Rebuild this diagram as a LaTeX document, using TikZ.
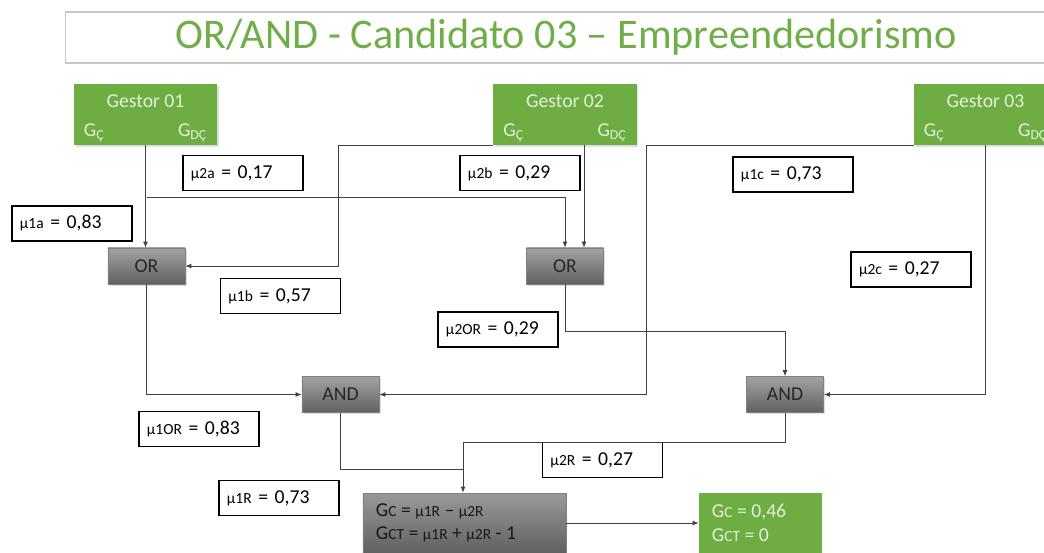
\documentclass[tikz,border=0pt]{standalone}
\usepackage{fontspec}
\setmainfont{Carlito}
\usetikzlibrary{arrows.meta,positioning,shadows}
\definecolor{gestorgreen}{HTML}{6DAD42}
\definecolor{titlegreen}{HTML}{6FAE48}
\definecolor{lighttext}{HTML}{E4F1DC}
\definecolor{linegray}{HTML}{404040}
\newcommand{\sm}[1]{{\fontsize{11}{12}\selectfont #1}}
\newcommand{\mi}[1]{\sm{μ#1}}
\newcommand{\gi}[1]{G\sm{#1}}
\begin{document}
\begin{tikzpicture}[x=0.025cm, y=-0.025cm, font=\fontsize{14}{16.5}\selectfont,
          >={Latex[length=1.5mm,width=1.2mm]},
          conn/.style={draw=linegray, line width=0.6pt},
          lbl/.style={draw=black, line width=0.8pt, fill=white, text width=2.6cm, align=left, inner xsep=0.2cm, minimum height=0.875cm, inner ysep=0pt},
          gate/.style={draw=black!50, top color=black!36, bottom color=black!62, text=black!85, minimum width=1.925cm, minimum height=0.9cm, inner sep=0pt,
            drop shadow={shadow xshift=0.4mm, shadow yshift=-0.4mm, opacity=0.25}},
          gbox/.style={fill=gestorgreen, minimum width=3.575cm, minimum height=1.525cm, inner sep=0pt,
            drop shadow={shadow xshift=0.4mm, shadow yshift=-0.4mm, opacity=0.25}},
          gtxt/.style={text=lighttext, inner sep=0pt}]
        \useasboundingbox (0,0) rectangle (1044,552);
        \clip (0,0) rectangle (1044,552);
        \node[draw=black!22, line width=0.8pt, minimum width=25cm, minimum height=1.275cm, text=titlegreen, font=\fontsize{30}{33}\selectfont] (title) at (566,37.5) {OR/AND - Candidato 03 – Empreendedorismo};
        \node[gbox] (g1) at (145.5,114.5) {};
        \node[gbox] (g2) at (565,114.5) {};
        \node[gbox] (g3) at (985.5,114.5) {};
        \foreach \g/\t in {g1/01, g2/02, g3/03} {
          \node[gtxt, below=0.28cm of \g.north] (\g n) {Gestor \t};
          \node[gtxt, anchor=base west] (\g c) at ([shift={(0.25cm,0.22cm)}]\g.south west) {G\textsubscript{Ç}};
          \node[gtxt, anchor=base east] (\g d) at ([shift={(-0.25cm,0.22cm)}]\g.south east) {G\textsubscript{DÇ}};
        }
        \node[gate] (or1) at (146.5,266) {OR};
        \node[gate] (or2) at (565,266) {OR};
        \node[gate] (and1) at (340.5,394.5) {AND};
        \node[gate] (and2) at (785,394.5) {AND};
        \node[draw=black!50, top color=black!40, bottom color=black!62, minimum width=5.075cm, minimum height=1.5cm, inner sep=0pt] (res) at (464.5,523) {};
        \node[anchor=west, align=left, text=black!90] (rest) at (371,523) {\gi{C} = \mi{1R} – \mi{2R}\\ \gi{CT} = \mi{1R} + \mi{2R} - 1};
        \node[fill=gestorgreen, minimum width=3.075cm, minimum height=1.5cm, inner sep=0pt] (fin) at (760.5,523) {};
        \node[anchor=west, align=left, text=lighttext] (fint) at (707,523) {\gi{C} = 0,46\\ \gi{CT} = 0};
        \node[lbl] (l2a) at (243,173) {\mi{2a} = 0,17};
        \node[lbl] (l1a) at (72,223.5) {\mi{1a} = 0,83};
        \node[lbl] (l1b) at (280.5,296) {\mi{1b} = 0,57};
        \node[lbl] (l2b) at (520,173) {\mi{2b} = 0,29};
        \node[lbl] (l2or) at (498,329.5) {\mi{2OR} = 0,29};
        \node[lbl] (l1c) at (793,174.5) {\mi{1c} = 0,73};
        \node[lbl] (l2c) at (911,269.5) {\mi{2c} = 0,27};
        \node[lbl] (l1or) at (199,429) {\mi{1OR} = 0,83};
        \node[lbl] (l1r) at (279,498) {\mi{1R} = 0,73};
        \node[lbl] (l2r) at (602.5,460) {\mi{2R} = 0,27};
        \coordinate (j1) at (147,197);
        \coordinate (g2dc) at (584,145);
        \coordinate (j2) at (463,442);
        \coordinate (j3) at (463,469);
        \draw[conn,->] (g1.south) -- (g1.south |- or1.north);
        \draw[conn,->] (j1) -| (or2.north);
        \draw[conn,->] (g2.south west) -- ++(-155,0) |- (or1.east);
        \draw[conn,->] (g2dc) -- (g2dc |- or2.north);
        \draw[conn,->] (g3.south west) -- ++(-267,0) |- (and1.east);
        \draw[conn,->] (g3.south) |- (and2.east);
        \draw[conn,->] (or1.south) |- (and1.west);
        \draw[conn,->] (or2.south) -- ++(0,47) -| (and2.north);
        \draw[conn] (and2.south) |- (j2);
        \draw[conn] (and1.south) |- (j3);
        \draw[conn,->] (j2) -- (j2 |- res.north);
        \draw[conn,->] (res.east) -- (fin.west);
      \end{tikzpicture}
\end{document}
